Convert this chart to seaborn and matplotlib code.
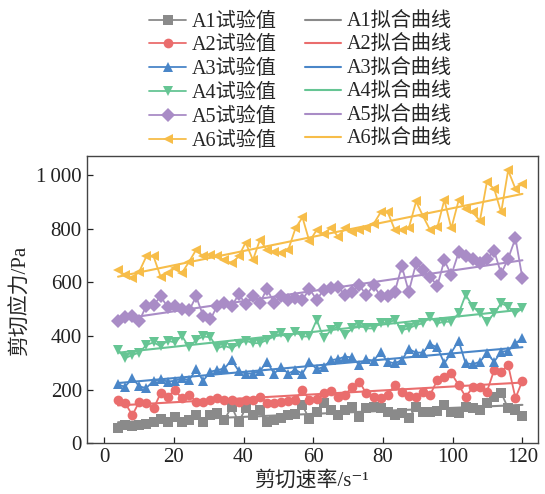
import matplotlib
matplotlib.use('Agg')
import matplotlib.pyplot as plt
import numpy as np
import pandas as pd
import seaborn as sns

# shear rate (s^-1)
shear_rate = [4.0, 6.0, 8.1, 10.1, 12.1, 14.2, 16.2, 18.2, 20.3, 22.3,
              24.4, 26.4, 28.4, 30.5, 32.5, 34.5, 36.6, 38.6, 40.6, 42.7,
              44.7, 46.7, 48.8, 50.8, 52.8, 54.9, 56.9, 58.9, 61.0, 63.0,
              65.1, 67.1, 69.1, 71.2, 73.2, 75.2, 77.3, 79.3, 81.3, 83.4,
              85.4, 87.4, 89.5, 91.5, 93.5, 95.6, 97.6, 99.6, 101.7, 103.7,
              105.8, 107.8, 109.8, 111.9, 113.9, 115.9, 118.0, 120.0]

# shear stress (Pa) per sample
a1 = [56, 68, 66, 68, 73, 79, 91, 79, 98, 81, 85, 107, 78, 106, 113, 87, 137, 79, 130, 106,
      124, 81, 87, 95, 105, 109, 141, 90, 118, 149, 124, 106, 124, 137, 99, 130, 137, 133, 118, 106,
      112, 96, 134, 118, 118, 121, 143, 118, 112, 134, 130, 124, 149, 174, 189, 130, 124, 102]
a2 = [161, 151, 105, 155, 149, 130, 186, 174, 198, 168, 180, 155, 155, 161, 168, 161, 161, 155, 161, 161,
      172, 152, 150, 153, 158, 161, 200, 161, 164, 186, 196, 174, 180, 211, 230, 186, 171, 168, 180, 217,
      192, 176, 174, 192, 180, 236, 248, 261, 217, 174, 208, 211, 192, 273, 267, 292, 168, 233]
a3 = [220, 210, 244, 212, 206, 233, 238, 230, 233, 242, 236, 275, 233, 267, 273, 279, 310, 270, 260, 260,
      270, 304, 260, 285, 260, 273, 260, 304, 276, 285, 310, 314, 323, 320, 292, 313, 307, 341, 304, 298,
      310, 351, 338, 338, 370, 357, 298, 338, 382, 298, 295, 304, 335, 304, 341, 345, 373, 391]
a4 = [348, 317, 329, 338, 366, 376, 362, 382, 376, 401, 357, 385, 398, 395, 354, 363, 354, 370, 383, 373,
      373, 385, 398, 410, 391, 416, 398, 398, 460, 391, 422, 435, 404, 428, 441, 428, 428, 450, 447, 460,
      422, 428, 441, 447, 472, 447, 453, 453, 484, 553, 509, 484, 453, 484, 522, 509, 484, 503]
a5 = [455, 470, 474, 456, 512, 515, 547, 509, 510, 500, 495, 547, 476, 462, 513, 521, 510, 555, 520, 547,
      522, 576, 522, 547, 534, 540, 534, 576, 534, 573, 580, 584, 553, 565, 590, 551, 590, 547, 547, 565,
      660, 565, 671, 647, 621, 587, 682, 627, 711, 696, 688, 671, 688, 716, 632, 688, 764, 615]
a6 = [646, 627, 615, 640, 696, 696, 621, 634, 652, 634, 677, 721, 696, 702, 696, 683, 671, 696, 748, 683,
      758, 720, 714, 708, 720, 801, 842, 752, 795, 779, 804, 770, 801, 789, 795, 801, 817, 860, 863, 795,
      795, 801, 901, 846, 795, 805, 907, 801, 905, 873, 860, 829, 973, 948, 860, 1017, 948, 967]

samples = ['A1', 'A2', 'A3', 'A4', 'A5', 'A6']
values = [a1, a2, a3, a4, a5, a6]
colors = ['#8a8a8a', '#ea6d6d', '#4a86c8', '#66c594', '#a98cc6', '#f7bd49']
markers = ['s', 'o', '^', 'v', 'D', '<']
y_ticks = [0, 200, 400, 600, 800, 1000]
y_tick_labels = ['0', '200', '400', '600', '800', '1\u2009000']
x_ticks = [0, 20, 40, 60, 80, 100, 120]

sns.set_style('ticks')
plt.rcParams['font.family'] = ['Liberation Serif', 'Noto Sans CJK SC', 'DejaVu Sans']
plt.rcParams['axes.unicode_minus'] = False

fig = plt.figure(figsize=(5.45, 4.94), dpi=100)
ax = fig.add_axes([0.159, 0.1026, 0.829, 0.5814])

for name, vals, color, marker in zip(samples, values, colors, markers):
    df = pd.DataFrame({'rate': shear_rate, 'stress': vals})
    sns.lineplot(data=df, x='rate', y='stress', ax=ax, color=color, marker=marker,
                 markersize=7, markeredgewidth=0, linewidth=1.3, errorbar=None,
                 label=f'{name}试验值')
    slope, intercept = np.polyfit(shear_rate, vals, 1)
    fit = pd.DataFrame({'rate': [shear_rate[0], shear_rate[-1]]})
    fit['stress'] = slope * fit['rate'] + intercept
    sns.lineplot(data=fit, x='rate', y='stress', ax=ax, color=color, linewidth=1.5,
                 errorbar=None, label=f'{name}拟合曲线')

handles, labels = ax.get_legend_handles_labels()
order = list(range(0, 12, 2)) + list(range(1, 12, 2))
ax.get_legend().remove()
fig.legend([handles[i] for i in order], [labels[i] for i in order], ncol=2,
           loc='upper center', bbox_to_anchor=(0.552, 1.012), frameon=False,
           fontsize=14.5, handlelength=1.8, handletextpad=0.3, columnspacing=1.4,
           labelspacing=0.22)

ax.set_xlim(-5, 124.6)
ax.set_ylim(0, 1070)
ax.set_xticks(x_ticks)
ax.set_yticks(y_ticks)
ax.set_yticklabels(y_tick_labels)
ax.tick_params(direction='in', length=4, width=0.9, labelsize=15, colors='#222222',
               top=False, right=False)
for spine in ax.spines.values():
    spine.set_color('#444444')
    spine.set_linewidth(1.0)
ax.set_xlabel('剪切速率/s⁻¹', fontsize=15, labelpad=3)
ax.set_ylabel('剪切应力/Pa', fontsize=15, labelpad=4)

fig.savefig('out.png', dpi=100)
